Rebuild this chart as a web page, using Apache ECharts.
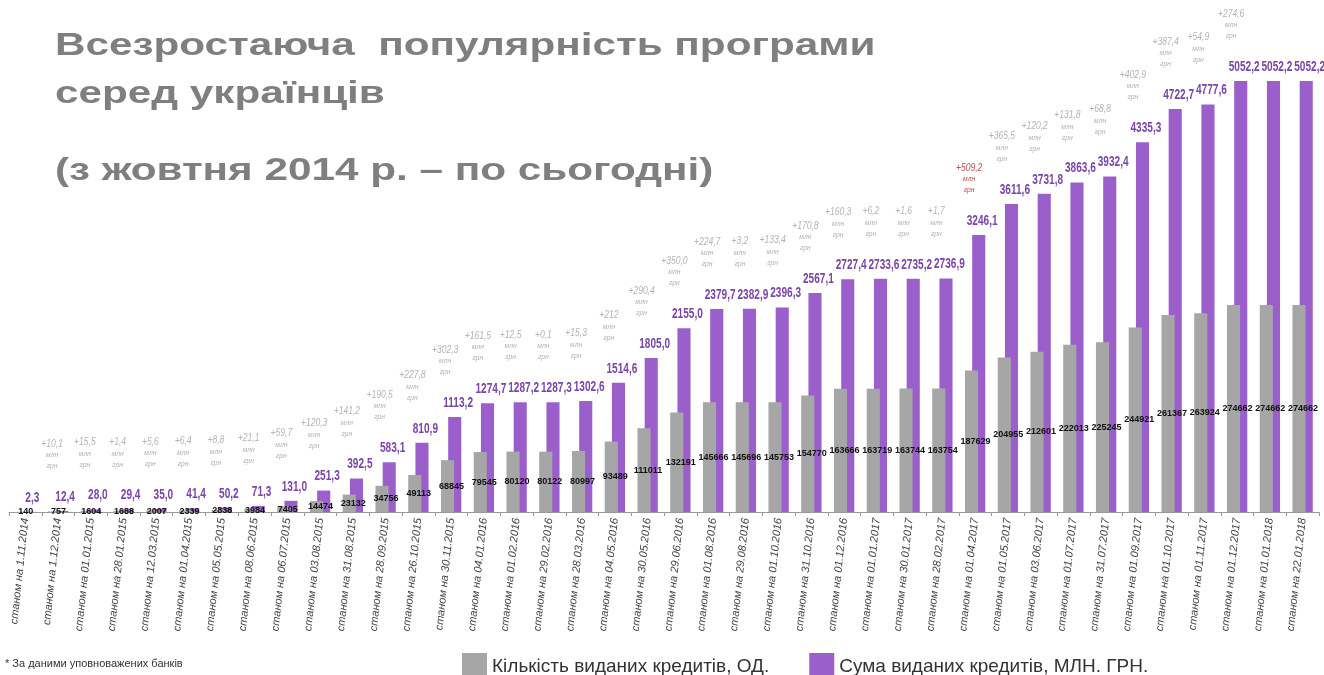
<!DOCTYPE html>
<html>
<head>
<meta charset="utf-8">
<script src="https://cdn.jsdelivr.net/npm/echarts@6/dist/echarts.min.js"></script>
<style>
  html, body { margin: 0; padding: 0; background: #fff; }
  #chart { width: 1324px; height: 675px; }
</style>
</head>
<body>
<div id="chart"></div>
<script>
// дати (вісь X)
const categories = [
  'станом на 1.11.2014', 'станом на 1.12.2014', 'станом на 01.01.2015', 'станом на 28.01.2015',
  'станом на 12.03.2015', 'станом на 01.04.2015', 'станом на 05.05.2015', 'станом на 08.06.2015',
  'станом на 06.07.2015', 'станом на 03.08.2015', 'станом на 31.08.2015', 'станом на 28.09.2015',
  'станом на 26.10.2015', 'станом на 30.11.2015', 'станом на 04.01.2016', 'станом на 01.02.2016',
  'станом на 29.02.2016', 'станом на 28.03.2016', 'станом на 04.05.2016', 'станом на 30.05.2016',
  'станом на 29.06.2016', 'станом на 01.08.2016', 'станом на 29.08.2016', 'станом на 01.10.2016',
  'станом на 31.10.2016', 'станом на 01.12.2016', 'станом на 01.01.2017', 'станом на 30.01.2017',
  'станом на 28.02.2017', 'станом на 01.04.2017', 'станом на 01.05.2017', 'станом на 03.06.2017',
  'станом на 01.07.2017', 'станом на 31.07.2017', 'станом на 01.09.2017', 'станом на 01.10.2017',
  'станом на 01.11.2017', 'станом на 01.12.2017', 'станом на 01.01.2018', 'станом на 22.01.2018'
]

// кількість виданих кредитів, од.
const loanCount = [
  140, 757, 1604, 1688, 2007, 2339, 2838, 3984, 7405, 14474,
  23132, 34756, 49113, 68845, 79545, 80120, 80122, 80997, 93489, 111011,
  132191, 145666, 145696, 145753, 154770, 163666, 163719, 163744, 163754, 187629,
  204955, 212601, 222013, 225245, 244921, 261367, 263924, 274662, 274662, 274662
]

// сума виданих кредитів, млн грн
const loanSum = [
  2.3, 12.4, 28.0, 29.4, 35.0, 41.4, 50.2, 71.3, 131.0, 251.3,
  392.5, 583.1, 810.9, 1113.2, 1274.7, 1287.2, 1287.3, 1302.6, 1514.6, 1805.0,
  2155.0, 2379.7, 2382.9, 2396.3, 2567.1, 2727.4, 2733.6, 2735.2, 2736.9, 3246.1,
  3611.6, 3731.8, 3863.6, 3932.4, 4335.3, 4722.7, 4777.6, 5052.2, 5052.2, 5052.2
]

// приріст, млн грн (підписи над стовпцями)
const sumGrowth = [
  '', '+10,1', '+15,5', '+1,4', '+5,6', '+6,4', '+8,8', '+21,1', '+59,7', '+120,3',
  '+141,2', '+190,5', '+227,8', '+302,3', '+161,5', '+12,5', '+0,1', '+15,3', '+212', '+290,4',
  '+350,0', '+224,7', '+3,2', '+133,4', '+170,8', '+160,3', '+6,2', '+1,6', '+1,7', '+509,2',
  '+365,5', '+120,2', '+131,8', '+68,8', '+402,9', '+387,4', '+54,9', '+274,6', '', ''
]
const highlightIndex = 29

const GREY = '#a6a6a6'
const PURPLE = '#9b5fcc'
const SANS = '"Liberation Sans", Arial, sans-serif'

const chart = echarts.init(document.getElementById('chart'))

const fmt = v => v.toFixed(1).replace('.', ',')

// підписи над фіолетовими стовпцями (стиснутий шрифт через scaleX)
const renderSumLabel = (params, api) => {
  const i = params.dataIndex
  const pt = api.coord([api.value(0), api.value(1)])
  const x = pt[0] + 7
  const y = pt[1] - 7
  const children = [{
    type: 'text', x: x, y: y, scaleX: 0.72,
    style: {
      text: fmt(api.value(1)), x: 0, y: 0, align: 'center', verticalAlign: 'bottom',
      font: 'bold 14px ' + SANS, fill: '#7a45a8'
    }
  }]
  const g = sumGrowth[i]
  if (g) {
    const col = i === highlightIndex ? '#c0504d' : '#b3b3b3'
    const ax = x - 13
    children.push(
      { type: 'text', x: ax, y: y - 55, scaleX: 0.78, style: { text: g, x: 0, y: 0, align: 'center', verticalAlign: 'bottom', font: 'italic 11px ' + SANS, fill: col } },
      { type: 'text', x: ax, y: y - 45, scaleX: 0.85, style: { text: 'млн', x: 0, y: 0, align: 'center', verticalAlign: 'bottom', font: 'italic 8px ' + SANS, fill: col } },
      { type: 'text', x: ax, y: y - 34, scaleX: 0.85, style: { text: 'грн', x: 0, y: 0, align: 'center', verticalAlign: 'bottom', font: 'italic 8px ' + SANS, fill: col } }
    )
  }
  return { type: 'group', children: children }
}

const option = {
  animation: false,
  backgroundColor: '#fff',
  textStyle: { fontFamily: SANS },
  grid: { left: 9, right: 5, top: 81, bottom: 163, containLabel: false },
  legend: {
    left: 457,
    top: 648,
    icon: 'rect',
    itemWidth: 25,
    itemHeight: 28,
    itemGap: 40,
    textStyle: { fontSize: 19, color: '#333', fontFamily: SANS },
    data: ['Кількість виданих кредитів, ОД.', 'Сума виданих кредитів, МЛН. ГРН.']
  },
  xAxis: {
    type: 'category',
    data: categories,
    axisLine: { show: true, lineStyle: { color: '#999', width: 1 } },
    axisTick: { show: true, length: 4, lineStyle: { color: '#999' } },
    axisLabel: {
      interval: 0,
      rotate: 84,
      margin: 6,
      fontSize: 11,
      fontStyle: 'italic',
      color: '#444',
      fontFamily: SANS
    },
    splitLine: { show: false }
  },
  yAxis: [
    { type: 'value', show: false, min: 0, max: 572000, splitLine: { show: false } },
    { type: 'value', show: false, min: 0, max: 5052.2, splitLine: { show: false } }
  ],
  series: [
    {
      name: 'Кількість виданих кредитів, ОД.',
      type: 'bar',
      yAxisIndex: 0,
      z: 3,
      barWidth: '40%',
      barGap: '-45%',
      data: loanCount,
      itemStyle: { color: GREY },
      label: {
        show: true,
        position: 'inside',
        offset: [4, 0],
        fontSize: 9,
        fontWeight: 'bold',
        color: '#111',
        fontFamily: SANS
      }
    },
    {
      name: 'Сума виданих кредитів, МЛН. ГРН.',
      type: 'bar',
      yAxisIndex: 1,
      z: 2,
      barWidth: '40%',
      data: loanSum,
      itemStyle: { color: PURPLE }
    },
    {
      name: 'labels',
      type: 'custom',
      yAxisIndex: 1,
      z: 10,
      silent: true,
      data: loanSum.map((v, i) => [i, v]),
      encode: { x: 0, y: 1 },
      renderItem: renderSumLabel
    }
  ],
  graphic: [
    {
      type: 'text', left: 55, top: 22, scaleX: 1.32,
      style: {
        text: 'Всезростаюча  популярність програми\nсеред українців',
        font: 'bold 32px ' + SANS,
        fill: '#7f7f7f',
        lineHeight: 48
      }
    },
    {
      type: 'text', left: 55, top: 155, scaleX: 1.32,
      style: {
        text: '(з жовтня 2014 р. – по сьогодні)',
        font: 'bold 32px ' + SANS,
        fill: '#7f7f7f'
      }
    },
    {
      type: 'text', left: 5, top: 658,
      style: {
        text: '* За даними уповноважених банків',
        font: '11px ' + SANS,
        fill: '#333'
      }
    }
  ]
}

chart.setOption(option)
</script>
</body>
</html>
